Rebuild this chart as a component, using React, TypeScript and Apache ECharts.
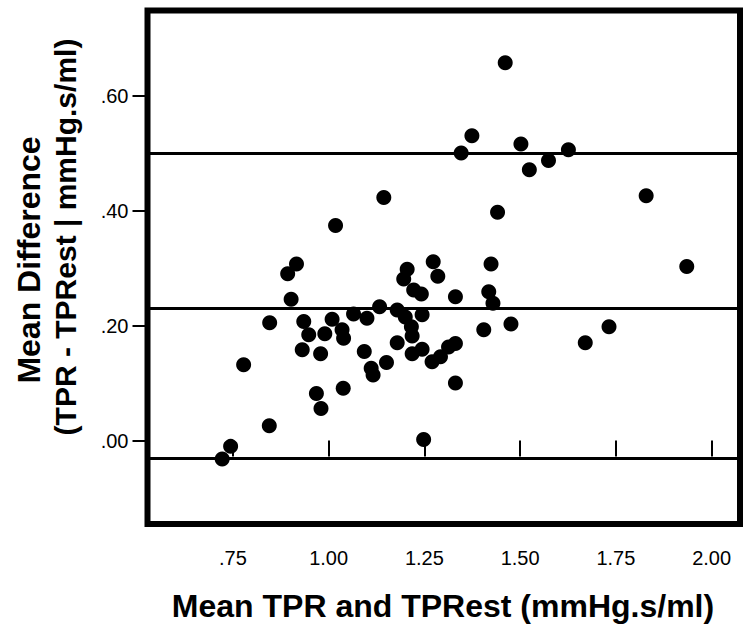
import React, { useEffect, useRef } from "react";
import * as echarts from "echarts";

// Mean of TPR and TPRest (x) and mean difference |TPR - TPRest| (y)
const meanValues = [
  1.461, 1.374, 1.346, 1.502, 1.574, 1.524, 1.626, 1.441, 1.829, 1.144,
  1.018, 0.916, 0.893, 0.902, 0.846, 0.935, 0.948, 0.931, 0.979, 0.99,
  1.009, 1.035, 1.039, 1.065, 1.093, 0.778, 0.968, 0.98, 1.038, 0.845,
  0.744, 0.722, 1.205, 1.196, 1.273, 1.285, 1.424, 1.222, 1.242, 1.331,
  1.418, 1.429, 1.133, 1.1, 1.179, 1.2, 1.244, 1.216, 1.218, 1.179,
  1.405, 1.151, 1.111, 1.116, 1.218, 1.244, 1.27, 1.292, 1.313, 1.331,
  1.331, 1.248, 1.476, 1.67, 1.732, 1.935,
];
const diffValues = [
  0.657, 0.53, 0.5, 0.516, 0.487, 0.471, 0.506, 0.397, 0.426, 0.423,
  0.374, 0.307, 0.29, 0.246, 0.205, 0.207, 0.184, 0.158, 0.151, 0.186,
  0.211, 0.193, 0.178, 0.22, 0.155, 0.132, 0.082, 0.056, 0.091, 0.026,
  -0.01, -0.032, 0.298, 0.281, 0.311, 0.286, 0.307, 0.262, 0.255, 0.25,
  0.259, 0.239, 0.233, 0.213, 0.227, 0.215, 0.219, 0.198, 0.182, 0.17,
  0.193, 0.136, 0.126, 0.114, 0.151, 0.159, 0.137, 0.146, 0.163, 0.169,
  0.1, 0.002, 0.203, 0.17, 0.198, 0.303,
];

// Reference lines: upper limit of agreement, mean difference, lower limit
const referenceLines = [0.5, 0.234, -0.031];

const xTicks = [0.75, 1.0, 1.25, 1.5, 1.75, 2.0];
const yTicks = [0, 0.2, 0.4, 0.6];

const xTitle = "Mean TPR and TPRest (mmHg.s/ml)";
const yTitleLine1 = "Mean Difference";
const yTitleLine2 = "(TPR - TPRest | mmHg.s/ml)";

const fmt = (v: number) => {
  const s = Number(v).toFixed(2);
  return s.startsWith("0") ? s.slice(1) : s;
};

export default function App() {
  const ref = useRef<HTMLDivElement>(null);

  useEffect(() => {
    if (!ref.current) return;
    const chart = echarts.init(ref.current, null, { renderer: "svg" });
    const points = meanValues.map((x, i) => [x, diffValues[i]]);
    const font = "Liberation Sans, Arial, sans-serif";

    chart.setOption({
      animation: false,
      backgroundColor: "#ffffff",
      grid: {
        left: 147.5,
        right: 4,
        top: 10.5,
        bottom: 115,
        show: true,
        borderColor: "#000",
        borderWidth: 6,
        backgroundColor: "transparent",
      },
      xAxis: {
        type: "value",
        min: 0.527,
        max: 2.074,
        axisLine: { show: false },
        splitLine: { show: false },
        axisTick: {
          show: true,
          customValues: xTicks,
          length: 16,
          lineStyle: { color: "#000", width: 2 },
        },
        axisLabel: {
          customValues: xTicks,
          formatter: fmt,
          color: "#000",
          fontFamily: font,
          fontSize: 20,
          margin: 24,
        },
      },
      yAxis: {
        type: "value",
        min: -0.145,
        max: 0.748,
        axisLine: { show: false },
        splitLine: { show: false },
        axisTick: {
          show: true,
          customValues: yTicks,
          length: 15,
          lineStyle: { color: "#000", width: 2 },
        },
        axisLabel: {
          customValues: yTicks,
          formatter: fmt,
          color: "#000",
          fontFamily: font,
          fontSize: 20,
          margin: 19,
        },
      },
      series: [
        {
          type: "scatter",
          data: points,
          symbol: "circle",
          symbolSize: 15,
          itemStyle: { color: "#000", opacity: 1 },
          markLine: {
            silent: true,
            symbol: ["none", "none"],
            label: { show: false },
            lineStyle: { color: "#000", width: 3, type: "solid" },
            data: referenceLines.map((v) => ({ yAxis: v })),
          },
        },
      ],
      graphic: [
        {
          type: "text",
          x: 443,
          y: 606,
          style: {
            text: xTitle,
            fontFamily: font,
            fontWeight: "bold",
            fontSize: 32,
            fill: "#000",
            align: "center",
            verticalAlign: "middle",
          },
        },
        {
          type: "text",
          x: 29,
          y: 260,
          rotation: Math.PI / 2,
          style: {
            text: yTitleLine1,
            fontFamily: font,
            fontWeight: "bold",
            fontSize: 32,
            fill: "#000",
            align: "center",
            verticalAlign: "middle",
          },
        },
        {
          type: "text",
          x: 65,
          y: 237,
          rotation: Math.PI / 2,
          style: {
            text: yTitleLine2,
            fontFamily: font,
            fontWeight: "bold",
            fontSize: 30,
            fill: "#000",
            align: "center",
            verticalAlign: "middle",
          },
        },
      ],
    });

    return () => chart.dispose();
  }, []);

  return (
    <div
      ref={ref}
      style={{ position: "fixed", left: 0, top: 0, width: 744, height: 639 }}
    />
  );
}
